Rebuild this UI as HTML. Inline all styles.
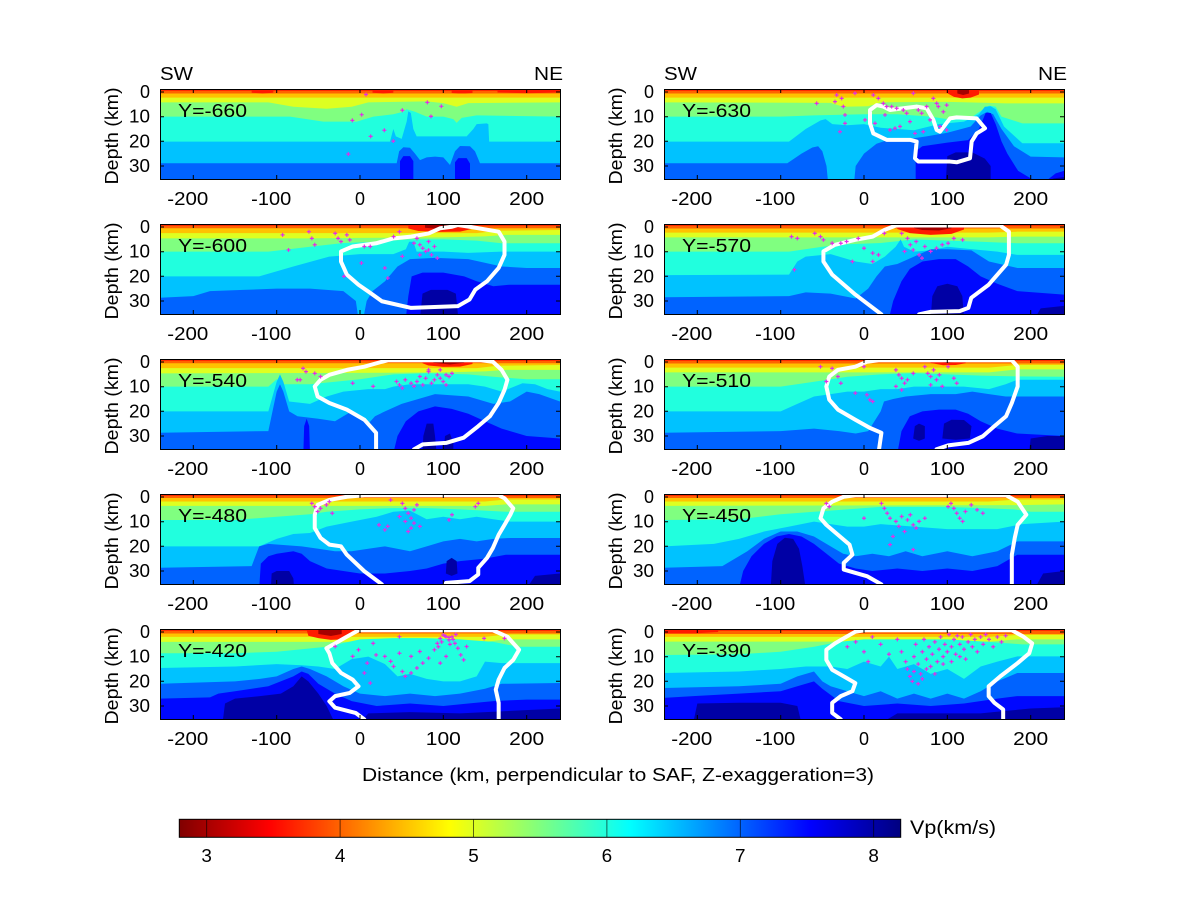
<!DOCTYPE html>
<html><head><meta charset="utf-8"><style>
body{margin:0;background:#fff}
svg{display:block}
.t{font-family:"Liberation Sans",Arial,sans-serif;font-size:18px;fill:#000}
.r3{fill:#a50000}.r35{fill:#ff1a00}.r4{fill:#ff6300}.r45{fill:#ffc200}.r5{fill:#deff21}.r55{fill:#80ff80}
.r6{fill:#21ffde}.r65{fill:#00c2ff}.r7{fill:#0063ff}.r75{fill:#0008ff}.r8{fill:#0000a5}
.wl{fill:none;stroke:#fff;stroke-width:4;vector-effect:non-scaling-stroke;stroke-linejoin:round;stroke-linecap:round}
.pts{fill:none;stroke:none;marker-start:url(#pt);marker-mid:url(#pt);marker-end:url(#pt)}
</style></head><body>
<svg width="1200" height="900" viewBox="0 0 1200 900" xmlns="http://www.w3.org/2000/svg">
<rect width="1200" height="900" fill="#fff"/>
<defs>
<clipPath id="c"><rect x="-240" y="-1.216" width="480" height="36.486"/></clipPath>
<marker id="pt" markerUnits="userSpaceOnUse" orient="0" overflow="visible" markerWidth="1" markerHeight="1" refX="0" refY="0">
<path d="M-2.4,-0.25h4.8v0.5h-4.8z M-0.7,-0.8h1.4v1.6h-1.4z" fill="#e22ee6"/>
</marker>
<linearGradient id="jet" x1="0" y1="0" x2="1" y2="0">
<stop offset="0" stop-color="#800000"/><stop offset="0.125" stop-color="#ff0000"/><stop offset="0.375" stop-color="#ffff00"/><stop offset="0.625" stop-color="#00ffff"/><stop offset="0.875" stop-color="#0000ff"/><stop offset="1" stop-color="#000080"/>
</linearGradient>
<g id="ax"><rect x="0.5" y="0.5" width="400" height="90" fill="none" stroke="#000"/>
<path d="M33.3,0v4M116.7,0v4M200,0v4M283.3,0v4M366.7,0v4M33.3,90v-4M116.7,90v-4M200,90v-4M283.3,90v-4M366.7,90v-4M0,3h4M0,27.7h4M0,52.3h4M0,77h4M400,3h-4M400,27.7h-4M400,52.3h-4M400,77h-4" stroke="#000" fill="none"/></g>
</defs>

<!-- Panel 1 Y=-660 -->
<g transform="translate(360,92) scale(0.833333,2.466667)"><g clip-path="url(#c)">
<rect class="r4" x="-240" y="-2" width="480" height="40"/>
<path class="r35" d="M-240,-2H240V-0.5H-240Z M-130,-2H-104V0.3L-117,0.6L-130,0.3Z M15,-2H40V0.3L28,0.6L15,0.3Z M110,-2H135V0.4L122,0.7L110,0.4Z M165,-2H240V0.2L200,0.5L165,0.2Z"/>
<path class="r45" d="M-240,0.6H240V37H-240Z"/>
<path class="r5" d="M-240,2.3H240V37H-240Z"/>
<path class="r55" d="M-240,4.2L-110,4.2L-80,6L-40,6.8L-10,6L10,4.2L80,3.8L100,4.5L116,6L130,4.5L240,4.2V37H-240Z"/>
<path class="r6" d="M-240,10L-84,10L-44,12L-4,12L16,10L40,9L52,8L56,7L66,8L80,10L100,10L112,11L116,12.5L122,10.5L140,9.5L240,10V37H-240Z"/>
<path class="r65" d="M-240,20.1L36,20.1L40,15L43,18L50,19L56,12L58,7.8L61,8.5L64,15L68,18L128,18L136,15L140,13L152,12.7L154,13L155,20.1L240,20.1V37H-240Z"/>
<path class="r7" d="M-240,28.9L44,28.9L47,24L52,22.4L60,22.6L66,25L72,27.6L80,26.5L90,26.2L100,26.5L108,29.6L114,24L120,21.9L132,22L138,24L144,28.9L240,28.9V37H-240Z"/>
<path class="r75" d="M48,37L48,28L52,26L60,26L64,28L64,37Z M114,37L114,28.5L118,26.8L128,26.8L132,29L132,37Z"/>
<path class="pts" d="M7.2,1L2,9.2L-9.2,11.5L12.8,18L29.2,15.5L40,19.9L50.8,7.4L80.8,4.2L85.2,9.9L97.6,5.8L-14,25.2"/>
</g></g>

<!-- Panel 2 Y=-630 -->
<g transform="translate(864,92) scale(0.833333,2.466667)"><g clip-path="url(#c)">
<rect class="r4" x="-240" y="-2" width="480" height="40"/>
<path class="r35" d="M-240,-2H240V-0.5H-240Z"/>
<path class="r45" d="M-240,0.6H240V37H-240Z"/>
<path class="r5" d="M-240,2.3H240V37H-240Z"/>
<path class="r55" d="M-240,4.2L-40,4.4L-25,6L5,5.8L20,4.2L100,4L150,4.4L170,4.6L240,4.6V37H-240Z"/>
<path class="r6" d="M-240,10L-100,10L-60,9.5L0,9L40,9L80,10L100,11L130,10L143,7L150,5.5L158,6L165,10L190,12.7L240,12.7V37H-240Z"/>
<path class="r65" d="M-240,20.1L-90,20.1L-70,15L-52,11.5L-46,11L-38,13L-20,13.5L0,13L20,14.5L60,15.5L90,13L120,12L138,9L145,6L152,5.8L158,7L168,14L190,20.8L240,20.8V37H-240Z"/>
<path class="r7" d="M-240,28.9L-92,28.9L-75,25L-62,22.5L-55,22L-50,24L-45,30L-43,37L-12,37L-10,30L0,25L15,21L28,19.5L55,19L75,18L100,16.5L128,14L140,9.5L148,8L155,9L165,15L180,22L200,26.2L240,26.5V37H-240Z"/>
<path class="r75" d="M62,37L62,24L70,22L100,20.5L125,19.5L138,15L146,8.5L152,8.5L158,13L165,20L172,25L185,32L205,36L220,37Z M215,37L230,33L240,32V37Z"/>
<path class="r8" d="M98,37L100,26L110,24.5L130,24.5L145,27L152,30L152,37Z M212,37L228,35L240,34.5V37Z"/>
<path class="r35" d="M100,-2H138V1L128,2.3L118,2.6L108,2L100,0.5Z"/>
<path class="r3" d="M112,-2H126V0.6L119,1.2L112,0.6Z"/>
<path class="wl" d="M7.2,7.3L15.2,5.3L23.2,5.9L31.2,7.3L47.2,6.6L63.2,5.9L75.2,6.6L83.2,11.3L87.2,15.4L91.2,16.1L97.2,13.4L103.2,10.7L111.2,10.3L135.2,10.7L145.2,14.7L135.2,16.8L129.2,20.1L127.2,26.9L111.2,28.5L103.2,28.2L65.2,28.2L61.2,26.9L63.2,20.1L55.2,19.4L27.2,19.4L11.2,16.8L7.2,12.7Z"/>
<path class="pts" d="M-56.8,4.6L-34.8,3.9L-32.8,1.2L-26.8,2.6L-24.8,5.9L-22.8,9.3L-22.8,12.7L-28.8,16.1L-10.8,0.5L1.2,11.3L11.2,1.2L13.2,12.7L17.2,2.6L23.2,4.6L27.2,5.9L25.2,9.3L31.2,15.4L37.2,14.7L43.2,14L47.2,7.3L51.2,8.6L55.2,12L59.2,0.5L65.2,7.3L69.2,8.6L75.2,5.9L79.2,11.3L83.2,2.6L87.2,4.6L91.2,14L95.2,8L99.2,5.3L99.2,15.4L71.2,16.1L61.2,16.8L89.2,5.9L33.2,5.9L39.2,6.6"/>
</g></g>

<!-- Panel 3 Y=-600 -->
<g transform="translate(360,227) scale(0.833333,2.466667)"><g clip-path="url(#c)">
<rect class="r4" x="-240" y="-2" width="480" height="40"/>
<path class="r35" d="M-240,-2H240V-0.5H-240Z"/>
<path class="r45" d="M-240,0.5H240V37H-240Z"/>
<path class="r5" d="M-240,2.5L140,2.5L165,1.5L240,1.2V37H-240Z"/>
<path class="r55" d="M-240,4.6L-60,4.6L0,4.4L100,4.2L150,3.8L175,3.2L240,3.2V37H-240Z"/>
<path class="r6" d="M-240,10L-110,10L-60,8L-20,6.5L20,6L60,5L100,5L140,5.5L170,6.6L240,6.6V37H-240Z"/>
<path class="r65" d="M-240,20L-121,20L-80,16L-37,12L0,11L40,11L55,9L59,6L64,6L68,10L100,10L130,10.5L170,10L240,10V37H-240Z"/>
<path class="r7" d="M-240,28.7L-200,28L-180,26L-140,25.5L-100,25L-60,25L-20,26L-5,30L-2,37L4,37L8,30L15,26L30,22L45,16L60,13L90,12.5L130,13L170,16L200,16.6L240,16.6V37H-240Z"/>
<path class="r75" d="M55,37L58,28L62,20L75,18.5L100,18.5L125,20L140,22L160,24L180,23.4L240,23.4V37Z"/>
<path class="r8" d="M72,37L75,27L85,25.5L105,25.5L115,27L118,37Z"/>
<path class="r35" d="M58,-2H134V0.8L120,1.9L95,2L70,1.6L58,0.6Z"/>
<path class="r3" d="M78,-2H118V0.2L100,0.9L78,0.3Z"/>
<path class="wl" d="M117.4,-0.8L131.4,-0.1L166.4,1.9L173.4,5.9L173.4,11.3L166.4,16.6L152.4,22L138.4,25.4L131.4,29.4L117.4,32.1L61.3,32.8L26.3,30.1L12.3,26.7L-1.8,23.4L-15.8,19.3L-22.8,14L-22.8,9.9L-8.8,7.9L19.3,6.6L40.3,4.6L61.3,3.9L82.3,2.6L96.3,0.5L110.4,-0.1Z"/>
<path class="pts" d="M-92.9,3.2L-61.3,1.9L-57.8,4.6L-54.3,7.2L-85.8,9.3L-29.8,2.6L-26.3,4.6L-22.8,5.9L-15.8,3.2L-12.3,5.2L5.2,7.9L12.3,7.9L29.8,16.6L33.3,20.7L-19.3,20L1.7,14.6L40.3,3.9L47.3,1.9L50.8,11.9L68.3,4.6L71.8,7.2L75.3,8.6L78.8,9.9L82.3,5.9L85.8,11.3L89.3,7.9L92.8,12.6L71.8,11.3L64.8,6.6L82.3,9.3"/>
</g></g>

<!-- Panel 4 Y=-570 -->
<g transform="translate(864,227) scale(0.833333,2.466667)"><g clip-path="url(#c)">
<rect class="r4" x="-240" y="-2" width="480" height="40"/>
<path class="r35" d="M-240,-2H240V-0.5H-240Z"/>
<path class="r45" d="M-240,0.6H240V37H-240Z"/>
<path class="r5" d="M-240,2.3L150,2.3L184,1.9L240,1.9V37H-240Z"/>
<path class="r55" d="M-240,4.2L150,4.2L184,3.9L240,3.9V37H-240Z"/>
<path class="r6" d="M-240,10L-90,10L-50,8L-20,7L20,6.5L60,5L100,5.5L140,6L184,6.6L240,6.6V37H-240Z"/>
<path class="r65" d="M-240,19.5L-90,19.3L-80,14L-70,12L-40,11L-10,14L10,15L25,12L38,8L44,5L48,8L60,10L80,9.5L100,8L130,9L160,10L184,11.3L240,11.3V37H-240Z"/>
<path class="r7" d="M-240,28.5L-90,28L-70,26.5L-40,27L-10,29L5,25L15,20L25,16L40,15L60,12L80,9L100,9L129,9.5L150,14L184,16.6L240,16.6V37H-240Z"/>
<path class="r75" d="M30,37L35,30L45,22L55,17L70,14L90,13L110,13L125,16L140,20L160,23L184,26L240,27.4V37Z"/>
<path class="r8" d="M80,37L82,28L88,24L100,23L112,24L118,28L120,37Z M205,37L212,33L240,32V37Z"/>
<path class="r35" d="M40,-2H120V1L105,2.8L80,3.2L55,2.5L40,0.8Z"/>
<path class="r3" d="M60,-2H105V0.5L90,1.4L70,1.2L60,0.4Z"/>
<path class="wl" d="M22,37L20.9,35.4L-10.4,27.4L-38.2,19.3L-48.7,14L-48.7,9.9L-34.8,7.2L-10.4,5.2L10.4,3.9L24.4,1.2L38.3,-0.6L163.5,-0.6L173.9,1.9L173.9,11.3L170.5,15.3L156.5,20.7L149.6,23.4L128.7,28.7L125.2,32.8L114.8,34.1L80,34.4L66.1,35.4L64,37"/>
<path class="pts" d="M-87,3.9L-80,4.6L-59.1,2.6L-52.2,3.9L-48.7,5.2L-38.2,6.6L-27.8,6.6L-20.9,5.9L-6.9,4.6L0,8.6L10.4,10.6L-13.9,14L10.4,14L-83.5,17.3L17.4,11.3L45.2,2.6L52.2,4.6L55.6,7.2L59.1,9.3L66.1,11.3L73,7.9L80,9.9L87,8.6L93.9,7.2L100.9,6.6L107.8,4.6L62.6,5.9L69.6,12.6L118.3,5.2L48.7,9.9L24.4,2.6"/>
</g></g>

<!-- Panel 5 Y=-540 -->
<g transform="translate(360,362) scale(0.833333,2.466667)"><g clip-path="url(#c)">
<rect class="r4" x="-240" y="-2" width="480" height="40"/>
<path class="r35" d="M-240,-2H240V-0.5H-240Z"/>
<path class="r45" d="M-240,0.5H240V37H-240Z"/>
<path class="r5" d="M-240,2.5L140,2.5L165,1.5L240,1.2V37H-240Z"/>
<path class="r55" d="M-240,4.6L0,4.4L100,4.2L150,3.8L175,3.2L240,3.2V37H-240Z"/>
<path class="r6" d="M-240,10L-110,10L-100,7L-92,9L-60,9L-30,8L0,7L40,5L80,4.5L130,5L160,6L200,7L240,7V37H-240Z"/>
<path class="r65" d="M-240,20L-110,20L-100,8L-96,5L-92,8L-85,16L-60,17L-40,14L-20,12L10,11L30,11L40,10L60,9L100,9L130,9L150,10L170,12L185,10L195,8.6L210,9L225,11L240,12V37H-240Z"/>
<path class="r7" d="M-240,28.7L-110,28L-100,12L-96,9L-92,12L-85,20L-75,22L-50,23L-30,24L-20,22L-10,20L0,22L10,25L18,22L30,20L50,17L70,15L90,13L130,14L160,17L180,16L190,14L200,12L215,13L240,16V37H-240Z"/>
<path class="r75" d="M-68,37L-67,26L-64,23L-61,26L-60,37Z M40,37L45,30L55,24L70,20L90,18L110,19L130,21L150,24L170,27L200,30L240,31V37Z"/>
<path class="r8" d="M75,37L76,30L80,25L88,25L90,30L92,37Z M100,37L102,30L108,29L112,33L112,37Z"/>
<path class="r35" d="M75,-2H135V0.8L120,1.9L100,2L82,1.4L75,0.5Z"/>
<path class="r3" d="M88,-2H125V0.3L108,1L88,0.3Z"/>
<path class="wl" d="M19.3,37L19.3,28.7L5.2,23.4L-15.8,19.3L-36.8,16.6L-50.8,14L-54.3,9.9L-47.3,7.2L-36.8,5.2L-15.8,3.2L5.2,1.9L26.3,-0.1L33.3,-0.7L145.4,-0.7L159.4,-0.1L169.9,3.2L176.9,7.2L173.4,11.3L166.4,16.6L155.9,22L141.9,26L124.4,30.7L103.3,32.8L75.3,33.4L64.8,35.4L63,37"/>
<path class="pts" d="M-68.3,2.6L-64.8,3.9L-75.3,7.2L-71.8,7.2L-54.3,4.6L-47.3,5.9L-8.8,8.6L15.8,9.9L43.8,7.9L47.3,9.3L54.3,7.2L61.3,8.6L68.3,7.9L75.3,9.3L78.8,6.6L82.3,3.9L85.8,8.6L89.3,7.2L92.8,5.2L96.3,6.6L99.8,7.9L103.3,5.2L106.8,5.9L110.4,4.6L71.8,5.9L64.8,9.9L50.8,10.6L82.3,3.2L96.3,3.2L103.3,9.3"/>
</g></g>

<!-- Panel 6 Y=-510 -->
<g transform="translate(864,362) scale(0.833333,2.466667)"><g clip-path="url(#c)">
<rect class="r4" x="-240" y="-2" width="480" height="40"/>
<path class="r35" d="M-240,-2H240V-0.5H-240Z"/>
<path class="r45" d="M-240,0.6H240V37H-240Z"/>
<path class="r5" d="M-240,2.3L150,2.3L184,1.2L240,1.2V37H-240Z"/>
<path class="r55" d="M-240,4.2L150,4.2L184,3L240,3V37H-240Z"/>
<path class="r6" d="M-240,10L-100,10L-60,8L-20,6L20,5L60,4.5L100,5L140,5.5L175,5.8L240,6V37H-240Z"/>
<path class="r65" d="M-240,20L-100,20L-80,17L-60,14L-40,13L-20,12L0,12L20,11L40,11L60,10L90,10L120,10L150,11L170,9L184,7.2L240,7.2V37H-240Z"/>
<path class="r7" d="M-240,28.7L-100,28L-60,27L-30,28L-10,29L5,28L20,20L24,16L35,15L50,14L80,13L110,13L130,12L150,13L170,14L240,14V37H-240Z"/>
<path class="r75" d="M40,37L45,28L55,22L70,20L90,19.3L110,19.3L125,21L140,24L160,27L184,29L240,30V37Z"/>
<path class="r8" d="M59,31L61,26L66,25L73,26L73,31L66,32Z M94,31L96,25L105,23.4L120,23.5L129,26L127,31L110,31.5Z M198,37L200,31L220,30L240,30V37Z"/>
<path class="r35" d="M80,-2H122V0.5L110,1.2L95,1.3L80,0.4Z"/>
<path class="r3" d="M90,-2H112V-0.2L100,0.4L90,-0.2Z"/>
<path class="wl" d="M17.4,37L20.9,28.7L7,26.7L-10.4,23.4L-31.3,19.3L-41.7,15.3L-45.2,9.9L-41.7,5.9L-31.3,3.2L-10.4,1.9L3.5,-0.1L17.4,-0.7L177.4,-0.7L184.4,1.9L184.4,9.9L177.4,16.6L170.5,22L156.5,26L142.6,30.1L125.2,32.8L100.9,33.8L87,35.4L85,37"/>
<path class="pts" d="M-52.2,1.9L-38.2,2.6L-45.2,7.9L-27.8,8.6L-31.3,5.9L-10.4,12.6L3.5,13.3L7,15.3L10.4,16L0,1.9L38.3,3.2L41.8,5.2L45.2,6.6L48.7,8.6L52.2,7.2L38.3,9.9L45.2,11.3L73,1.9L76.5,4.6L80,5.9L83.5,3.2L87,7.2L90.4,5.2L80,9.3L93.9,9.9L107.8,6.6L111.3,8.6L100.9,1.9L59.1,4.6"/>
</g></g>

<!-- Panel 7 Y=-480 -->
<g transform="translate(360,497) scale(0.833333,2.466667)"><g clip-path="url(#c)">
<rect class="r4" x="-240" y="-2" width="480" height="40"/>
<path class="r35" d="M-240,-2H240V-0.5H-240Z"/>
<path class="r45" d="M-240,0.4H240V37H-240Z"/>
<path class="r5" d="M-240,1.8L150,1.8L175,1L240,1V37H-240Z"/>
<path class="r55" d="M-240,3.6L150,3.6L175,3L240,3V37H-240Z"/>
<path class="r6" d="M-240,9.3L-150,9.3L-100,8L-60,7L-40,6L0,5L40,4.5L80,4.5L120,5L150,5.5L175,6L240,6V37H-240Z"/>
<path class="r65" d="M-240,20L-121,20L-100,17L-80,15L-60,14.6L-40,12L-10,10L20,8L40,6L60,5.5L80,9L100,8L120,9L140,8L160,9L180,10L240,10V37H-240Z"/>
<path class="r7" d="M-240,28.7L-130,28L-121,20L-110,19L-90,19.5L-70,20L-50,21L-30,22L-10,22L10,21L30,20L60,22L80,20L100,18L120,17L140,18L160,17L180,16.6L240,16.6V37H-240Z"/>
<path class="r75" d="M-121,37L-119,27L-110,24L-100,23L-80,22L-70,23L-60,26L-40,29L-20,30L0,31L30,31L60,30L80,29L100,27L120,26L150,25L175,23.4L240,23.4V37Z"/>
<path class="r8" d="M-107,37L-106,31L-100,30L-85,30L-80,33L-79,37Z M103,31L104,26L110,24.7L116,26L117,31L110,32Z M200,37L210,32L240,31V37Z"/>
<path class="wl" d="M26.3,37L26.3,35.4L5.2,30.1L-15.8,23.4L-22.8,20L-36.8,19.3L-47.3,16.6L-54.3,12.6L-54.3,7.2L-50.8,3.2L-36.8,1.2L-15.8,-0.1L5.2,-0.7L166.4,-0.7L173.4,0.5L183.9,4.6L180.4,7.2L173.4,11.3L166.4,15.3L159.4,20.7L152.4,24.7L141.9,28.7L141.9,31.4L131.4,34.1L103.3,34.8L99.8,37"/>
<path class="pts" d="M-57.8,2.6L-54.3,3.9L-50.8,5.9L-47.3,4.6L-40.3,3.2L-36.8,1.9L-33.3,6.6L36.8,1.2L50.8,2.6L54.3,4.6L57.8,6.6L61.3,8.6L64.8,10.6L61.3,12.6L54.3,9.9L47.3,7.9L64.8,5.2L68.3,3.2L33.3,11.9L29.8,13.3L22.8,11.3L110.4,7.2L106.8,9.3L138.4,3.9L141.9,2.6L57.8,14L71.8,11.9"/>
</g></g>

<!-- Panel 8 Y=-450 -->
<g transform="translate(864,497) scale(0.833333,2.466667)"><g clip-path="url(#c)">
<rect class="r4" x="-240" y="-2" width="480" height="40"/>
<path class="r35" d="M-240,-2H240V-0.5H-240Z"/>
<path class="r45" d="M-240,0.4H240V37H-240Z"/>
<path class="r5" d="M-240,1.8L150,1.8L184,1L240,1V37H-240Z"/>
<path class="r55" d="M-240,3.6L184,3.3L240,3V37H-240Z"/>
<path class="r6" d="M-240,9.3L-150,9L-100,7L-60,6L-20,5L20,4L100,4L140,4.5L180,5L200,6L240,6V37H-240Z"/>
<path class="r65" d="M-240,20L-180,19L-150,17L-120,14L-90,12L-60,10L-40,11L-20,12L0,12L20,11L60,12L100,13L160,13L190,11L240,10V37H-240Z"/>
<path class="r7" d="M-240,28.7L-170,28L-140,22L-120,17L-100,14L-80,14L-60,16L-40,20L-25,23L-10,24L10,23L30,24L50,22L70,24L100,22L130,24L160,22L184,18L240,18V37H-240Z"/>
<path class="r75" d="M-150,37L-145,30L-135,24L-120,19L-105,16L-90,15L-75,16L-60,19L-45,23L-30,27L-10,29L10,30L40,29L70,30L100,29L130,30L160,28L184,23.4L240,23.4V37Z"/>
<path class="r8" d="M-112,37L-110,26L-104,19L-95,16.5L-85,17L-78,21L-74,28L-70,37Z M205,37L215,31L240,30V37Z"/>
<path class="wl" d="M20.9,37L20.9,35.4L3.5,32.1L-24.3,29.4L-24.3,26.7L-13.9,23.4L-17.4,19.3L-31.3,15.3L-45.2,11.3L-52.2,8.6L-48.7,4.6L-38.2,1.9L-24.3,-0.1L-10.4,-0.7L170.5,-0.7L184.4,1.9L194.8,7.2L184.4,11.3L180.9,16.6L177.4,23.4L177.4,37"/>
<path class="pts" d="M-45.2,2.6L-41.7,3.9L0,8.6L20.9,2.6L24.4,4.6L27.8,6.6L31.3,8.6L38.3,9.9L45.2,7.9L52.2,9.3L55.6,7.2L59.1,11.3L62.6,12.6L66.1,9.9L48.7,14L41.8,11.9L73,8.6L34.8,16L31.3,19.3L59.1,21.3L104.4,2.6L107.8,4.6L111.3,6.6L114.8,8.6L118.3,9.9L121.7,5.9L128.7,3.2L135.7,5.2L142.6,6.6L100.9,3.9"/>
</g></g>

<!-- Panel 9 Y=-420 -->
<g transform="translate(360,632) scale(0.833333,2.466667)"><g clip-path="url(#c)">
<rect class="r4" x="-240" y="-2" width="480" height="40"/>
<path class="r35" d="M-240,-2H240V-0.5H-240Z"/>
<path class="r45" d="M-240,0.6H240V37H-240Z"/>
<path class="r5" d="M-240,2L150,2L175,1L240,1V37H-240Z"/>
<path class="r55" d="M-240,4L150,4L175,3L240,3V37H-240Z"/>
<path class="r6" d="M-240,8.6L-150,8.6L-100,8L-70,7L-40,6L0,3L40,2.5L80,2.5L120,3L160,4L190,6L240,6V37H-240Z"/>
<path class="r65" d="M-240,14.6L-150,14L-100,13L-70,13.5L-50,14L-30,15L-10,11L10,10L30,13L45,18L60,17L80,19L100,20L120,20L140,18L150,12L170,12.6L240,12.6V37H-240Z"/>
<path class="r7" d="M-240,21L-150,20L-120,19L-100,18L-80,15L-70,14L-60,15L-40,18L-20,22L0,25L30,26L60,25L90,26L120,25L150,23L170,21L240,20.7V37H-240Z"/>
<path class="r75" d="M-240,27L-180,26.5L-170,25L-150,24L-110,22L-80,18L-70,16L-62,17L-50,21L-30,25L-10,28L20,30L60,29L100,30L130,29L160,28L200,27.4L240,27.4V37H-240Z"/>
<path class="r8" d="M-165,37L-162,29L-150,27L-120,26L-95,25L-80,22L-70,18L-62,20L-50,25L-40,30L-30,37Z M0,37L10,33L60,32.5L120,33L180,32L240,31V37Z"/>
<path class="r35" d="M-65,-2H-10V1.5L-20,3L-35,3.2L-50,2.5L-62,1.5Z"/>
<path class="r3" d="M-50,-2H-22V0.8L-35,1.6L-50,0.8Z"/>
<path class="wl" d="M5.2,37L5.2,35.4L-5.3,32.8L-29.8,30.7L-36.8,28.1L-29.8,26L-12.3,24.7L-1.8,22L-8.8,19.3L-22.8,16.6L-33.3,12.6L-36.8,8.6L-40.3,6.6L-29.8,4.6L-15.8,1.9L-1.8,-0.7L159.4,-0.7L176.9,1.9L190.9,7.2L183.9,11.3L173.4,14.6L166.4,19.3L162.9,23.4L166.4,28.7L166.4,37"/>
<path class="pts" d="M-29.8,5.9L-8.8,9.9L-1.8,7.2L8.7,12.6L15.8,4.6L19.3,9.3L29.8,9.9L36.8,11.9L40.3,14L47.3,8.6L50.8,16L54.3,18L61.3,16.6L68.3,14.6L75.3,12.6L82.3,10.6L89.3,7.2L92.8,4.6L96.3,2.6L99.8,1.2L103.3,1.9L106.8,3.2L110.4,1.9L113.9,4.6L117.4,6.6L120.9,9.3L124.4,11.3L127.9,5.9L103.3,9.9L96.3,12.6L148.9,2.6L173.4,2.6L5.2,16.6L12.3,20.7L47.3,1.9L61.3,9.9L71.8,7.9L106.8,2.2L111.7,3L101.9,1.6L98,4L108,5L115,1L94,6"/>
</g></g>

<!-- Panel 10 Y=-390 -->
<g transform="translate(864,632) scale(0.833333,2.466667)"><g clip-path="url(#c)">
<rect class="r4" x="-240" y="-2" width="480" height="40"/>
<path class="r35" d="M-240,-2H240V-0.5H-240Z M-240,-2H-175V0L-200,0.5L-240,0.5Z"/>
<path class="r45" d="M-240,0.8H240V37H-240Z"/>
<path class="r5" d="M-240,2L150,2L184,1.2L240,1.2V37H-240Z"/>
<path class="r55" d="M-240,3.9L150,3.9L184,3L240,3V37H-240Z"/>
<path class="r6" d="M-240,9.3L-150,9L-100,8L-60,6L-30,4L0,3L50,3L100,3L150,4L190,5L240,5V37H-240Z"/>
<path class="r65" d="M-240,16.6L-150,16L-100,15L-70,14L-40,14L-20,15L0,12L20,14L30,10L40,15L60,13L80,17L100,15L120,19L140,14L160,12L184,9.9L240,9.9V37H-240Z"/>
<path class="r7" d="M-240,22.7L-150,22L-100,21L-80,18L-60,16L-50,20L-40,22L-20,24L0,26L20,24L40,27L60,25L80,27L100,25L120,27L140,24L160,20L184,16.6L240,16.6V37H-240Z"/>
<path class="r75" d="M-240,26.7L-205,26L-150,25L-100,24L-80,22L-60,20L-50,23L-30,28L0,30L40,29L80,30L120,29L160,27L184,26L240,26V37H-240Z"/>
<path class="r8" d="M-205,37L-200,29L-150,28.7L-100,28.7L-80,30L-75,37Z M20,37L40,33L100,33L140,33L170,32L200,31L240,30.5V37Z"/>
<path class="wl" d="M-27.8,37L-27.8,35.4L-38.2,32.8L-38.2,28.7L-27.8,26L-13.9,24L-10.4,20.7L-24.3,18L-38.2,15.3L-45.2,11.3L-45.2,7.2L-34.8,4.6L-20.9,1.9L-10.4,-0.1L0,-0.7L177.4,-0.7L191.3,1.9L201.8,4.6L198.3,8.6L184.4,12.6L163.5,18L149.6,22L149.6,26L156.5,28.7L167,31.4L167,37"/>
<path class="pts" d="M40,3L45,8L50,12L52,15L55,18L58,20L60,10L62,5L65,13L68,17L70,8L72,3L75,11L78,6L80,14L82,9L85,4L88,12L90,7L92,2L95,10L97,5L100,8L102,1L105,6L108,3L110,9L112,1.5L115,5L118,2L120,7L122,11L125,4L128,1L130,6L133,3L136,8L140,2L143,5L146,1L150,3L155,6L160,2L165,4L170,1.5L60,16L70,19L75,15L65,21L85,17L95,13L105,12L115,10L-20,6L-10,4L0,8L5,12L20,5L30,9L10,2"/>
</g></g>

<!-- Axes boxes and ticks -->
<use href="#ax" transform="translate(160,89)"/>
<use href="#ax" transform="translate(664,89)"/>
<use href="#ax" transform="translate(160,224)"/>
<use href="#ax" transform="translate(664,224)"/>
<use href="#ax" transform="translate(160,359)"/>
<use href="#ax" transform="translate(664,359)"/>
<use href="#ax" transform="translate(160,494)"/>
<use href="#ax" transform="translate(664,494)"/>
<use href="#ax" transform="translate(160,629)"/>
<use href="#ax" transform="translate(664,629)"/>

<!-- SW / NE -->
<text class="t" x="160" y="80" textLength="33" lengthAdjust="spacingAndGlyphs">SW</text>
<text class="t" x="563" y="80" text-anchor="end" textLength="29" lengthAdjust="spacingAndGlyphs">NE</text>
<text class="t" x="664" y="80" textLength="33" lengthAdjust="spacingAndGlyphs">SW</text>
<text class="t" x="1067" y="80" text-anchor="end" textLength="29" lengthAdjust="spacingAndGlyphs">NE</text>

<!-- Y= labels -->
<text class="t" x="178" y="117" textLength="69" lengthAdjust="spacingAndGlyphs">Y=-660</text>
<text class="t" x="682" y="117" textLength="69" lengthAdjust="spacingAndGlyphs">Y=-630</text>
<text class="t" x="178" y="252" textLength="69" lengthAdjust="spacingAndGlyphs">Y=-600</text>
<text class="t" x="682" y="252" textLength="69" lengthAdjust="spacingAndGlyphs">Y=-570</text>
<text class="t" x="178" y="387" textLength="69" lengthAdjust="spacingAndGlyphs">Y=-540</text>
<text class="t" x="682" y="387" textLength="69" lengthAdjust="spacingAndGlyphs">Y=-510</text>
<text class="t" x="178" y="522" textLength="69" lengthAdjust="spacingAndGlyphs">Y=-480</text>
<text class="t" x="682" y="522" textLength="69" lengthAdjust="spacingAndGlyphs">Y=-450</text>
<text class="t" x="178" y="657" textLength="69" lengthAdjust="spacingAndGlyphs">Y=-420</text>
<text class="t" x="682" y="657" textLength="69" lengthAdjust="spacingAndGlyphs">Y=-390</text>

<!-- Depth labels -->
<text class="t" text-anchor="middle" textLength="97" lengthAdjust="spacingAndGlyphs" transform="translate(118,136) rotate(-90)">Depth (km)</text>
<text class="t" text-anchor="middle" textLength="97" lengthAdjust="spacingAndGlyphs" transform="translate(622,136) rotate(-90)">Depth (km)</text>
<text class="t" text-anchor="middle" textLength="97" lengthAdjust="spacingAndGlyphs" transform="translate(118,271) rotate(-90)">Depth (km)</text>
<text class="t" text-anchor="middle" textLength="97" lengthAdjust="spacingAndGlyphs" transform="translate(622,271) rotate(-90)">Depth (km)</text>
<text class="t" text-anchor="middle" textLength="97" lengthAdjust="spacingAndGlyphs" transform="translate(118,406) rotate(-90)">Depth (km)</text>
<text class="t" text-anchor="middle" textLength="97" lengthAdjust="spacingAndGlyphs" transform="translate(622,406) rotate(-90)">Depth (km)</text>
<text class="t" text-anchor="middle" textLength="97" lengthAdjust="spacingAndGlyphs" transform="translate(118,541) rotate(-90)">Depth (km)</text>
<text class="t" text-anchor="middle" textLength="97" lengthAdjust="spacingAndGlyphs" transform="translate(622,541) rotate(-90)">Depth (km)</text>
<text class="t" text-anchor="middle" textLength="97" lengthAdjust="spacingAndGlyphs" transform="translate(118,676) rotate(-90)">Depth (km)</text>
<text class="t" text-anchor="middle" textLength="97" lengthAdjust="spacingAndGlyphs" transform="translate(622,676) rotate(-90)">Depth (km)</text>

<!-- Y tick labels -->
<g class="t" text-anchor="end">
<text x="150" y="98" textLength="10" lengthAdjust="spacingAndGlyphs">0</text>
<text x="150" y="122.7" textLength="21" lengthAdjust="spacingAndGlyphs">10</text>
<text x="150" y="147.3" textLength="21" lengthAdjust="spacingAndGlyphs">20</text>
<text x="150" y="172" textLength="21" lengthAdjust="spacingAndGlyphs">30</text>
<text x="654" y="98" textLength="10" lengthAdjust="spacingAndGlyphs">0</text>
<text x="654" y="122.7" textLength="21" lengthAdjust="spacingAndGlyphs">10</text>
<text x="654" y="147.3" textLength="21" lengthAdjust="spacingAndGlyphs">20</text>
<text x="654" y="172" textLength="21" lengthAdjust="spacingAndGlyphs">30</text>

<text x="150" y="233" textLength="10" lengthAdjust="spacingAndGlyphs">0</text>
<text x="150" y="257.7" textLength="21" lengthAdjust="spacingAndGlyphs">10</text>
<text x="150" y="282.3" textLength="21" lengthAdjust="spacingAndGlyphs">20</text>
<text x="150" y="307" textLength="21" lengthAdjust="spacingAndGlyphs">30</text>
<text x="654" y="233" textLength="10" lengthAdjust="spacingAndGlyphs">0</text>
<text x="654" y="257.7" textLength="21" lengthAdjust="spacingAndGlyphs">10</text>
<text x="654" y="282.3" textLength="21" lengthAdjust="spacingAndGlyphs">20</text>
<text x="654" y="307" textLength="21" lengthAdjust="spacingAndGlyphs">30</text>

<text x="150" y="368" textLength="10" lengthAdjust="spacingAndGlyphs">0</text>
<text x="150" y="392.7" textLength="21" lengthAdjust="spacingAndGlyphs">10</text>
<text x="150" y="417.3" textLength="21" lengthAdjust="spacingAndGlyphs">20</text>
<text x="150" y="442" textLength="21" lengthAdjust="spacingAndGlyphs">30</text>
<text x="654" y="368" textLength="10" lengthAdjust="spacingAndGlyphs">0</text>
<text x="654" y="392.7" textLength="21" lengthAdjust="spacingAndGlyphs">10</text>
<text x="654" y="417.3" textLength="21" lengthAdjust="spacingAndGlyphs">20</text>
<text x="654" y="442" textLength="21" lengthAdjust="spacingAndGlyphs">30</text>

<text x="150" y="503" textLength="10" lengthAdjust="spacingAndGlyphs">0</text>
<text x="150" y="527.7" textLength="21" lengthAdjust="spacingAndGlyphs">10</text>
<text x="150" y="552.3" textLength="21" lengthAdjust="spacingAndGlyphs">20</text>
<text x="150" y="577" textLength="21" lengthAdjust="spacingAndGlyphs">30</text>
<text x="654" y="503" textLength="10" lengthAdjust="spacingAndGlyphs">0</text>
<text x="654" y="527.7" textLength="21" lengthAdjust="spacingAndGlyphs">10</text>
<text x="654" y="552.3" textLength="21" lengthAdjust="spacingAndGlyphs">20</text>
<text x="654" y="577" textLength="21" lengthAdjust="spacingAndGlyphs">30</text>

<text x="150" y="638" textLength="10" lengthAdjust="spacingAndGlyphs">0</text>
<text x="150" y="662.7" textLength="21" lengthAdjust="spacingAndGlyphs">10</text>
<text x="150" y="687.3" textLength="21" lengthAdjust="spacingAndGlyphs">20</text>
<text x="150" y="712" textLength="21" lengthAdjust="spacingAndGlyphs">30</text>
<text x="654" y="638" textLength="10" lengthAdjust="spacingAndGlyphs">0</text>
<text x="654" y="662.7" textLength="21" lengthAdjust="spacingAndGlyphs">10</text>
<text x="654" y="687.3" textLength="21" lengthAdjust="spacingAndGlyphs">20</text>
<text x="654" y="712" textLength="21" lengthAdjust="spacingAndGlyphs">30</text>
</g>

<!-- X tick labels -->
<g class="t" text-anchor="middle">
<text x="187.8" y="205" textLength="41" lengthAdjust="spacingAndGlyphs">-200</text>
<text x="271.2" y="205" textLength="40" lengthAdjust="spacingAndGlyphs">-100</text>
<text x="360" y="205" textLength="10" lengthAdjust="spacingAndGlyphs">0</text>
<text x="443.3" y="205" textLength="35" lengthAdjust="spacingAndGlyphs">100</text>
<text x="526.7" y="205" textLength="35" lengthAdjust="spacingAndGlyphs">200</text>
<text x="691.8" y="205" textLength="41" lengthAdjust="spacingAndGlyphs">-200</text>
<text x="775.2" y="205" textLength="40" lengthAdjust="spacingAndGlyphs">-100</text>
<text x="864" y="205" textLength="10" lengthAdjust="spacingAndGlyphs">0</text>
<text x="947.3" y="205" textLength="35" lengthAdjust="spacingAndGlyphs">100</text>
<text x="1030.7" y="205" textLength="35" lengthAdjust="spacingAndGlyphs">200</text>

<text x="187.8" y="340" textLength="41" lengthAdjust="spacingAndGlyphs">-200</text>
<text x="271.2" y="340" textLength="40" lengthAdjust="spacingAndGlyphs">-100</text>
<text x="360" y="340" textLength="10" lengthAdjust="spacingAndGlyphs">0</text>
<text x="443.3" y="340" textLength="35" lengthAdjust="spacingAndGlyphs">100</text>
<text x="526.7" y="340" textLength="35" lengthAdjust="spacingAndGlyphs">200</text>
<text x="691.8" y="340" textLength="41" lengthAdjust="spacingAndGlyphs">-200</text>
<text x="775.2" y="340" textLength="40" lengthAdjust="spacingAndGlyphs">-100</text>
<text x="864" y="340" textLength="10" lengthAdjust="spacingAndGlyphs">0</text>
<text x="947.3" y="340" textLength="35" lengthAdjust="spacingAndGlyphs">100</text>
<text x="1030.7" y="340" textLength="35" lengthAdjust="spacingAndGlyphs">200</text>

<text x="187.8" y="475" textLength="41" lengthAdjust="spacingAndGlyphs">-200</text>
<text x="271.2" y="475" textLength="40" lengthAdjust="spacingAndGlyphs">-100</text>
<text x="360" y="475" textLength="10" lengthAdjust="spacingAndGlyphs">0</text>
<text x="443.3" y="475" textLength="35" lengthAdjust="spacingAndGlyphs">100</text>
<text x="526.7" y="475" textLength="35" lengthAdjust="spacingAndGlyphs">200</text>
<text x="691.8" y="475" textLength="41" lengthAdjust="spacingAndGlyphs">-200</text>
<text x="775.2" y="475" textLength="40" lengthAdjust="spacingAndGlyphs">-100</text>
<text x="864" y="475" textLength="10" lengthAdjust="spacingAndGlyphs">0</text>
<text x="947.3" y="475" textLength="35" lengthAdjust="spacingAndGlyphs">100</text>
<text x="1030.7" y="475" textLength="35" lengthAdjust="spacingAndGlyphs">200</text>

<text x="187.8" y="610" textLength="41" lengthAdjust="spacingAndGlyphs">-200</text>
<text x="271.2" y="610" textLength="40" lengthAdjust="spacingAndGlyphs">-100</text>
<text x="360" y="610" textLength="10" lengthAdjust="spacingAndGlyphs">0</text>
<text x="443.3" y="610" textLength="35" lengthAdjust="spacingAndGlyphs">100</text>
<text x="526.7" y="610" textLength="35" lengthAdjust="spacingAndGlyphs">200</text>
<text x="691.8" y="610" textLength="41" lengthAdjust="spacingAndGlyphs">-200</text>
<text x="775.2" y="610" textLength="40" lengthAdjust="spacingAndGlyphs">-100</text>
<text x="864" y="610" textLength="10" lengthAdjust="spacingAndGlyphs">0</text>
<text x="947.3" y="610" textLength="35" lengthAdjust="spacingAndGlyphs">100</text>
<text x="1030.7" y="610" textLength="35" lengthAdjust="spacingAndGlyphs">200</text>

<text x="187.8" y="745" textLength="41" lengthAdjust="spacingAndGlyphs">-200</text>
<text x="271.2" y="745" textLength="40" lengthAdjust="spacingAndGlyphs">-100</text>
<text x="360" y="745" textLength="10" lengthAdjust="spacingAndGlyphs">0</text>
<text x="443.3" y="745" textLength="35" lengthAdjust="spacingAndGlyphs">100</text>
<text x="526.7" y="745" textLength="35" lengthAdjust="spacingAndGlyphs">200</text>
<text x="691.8" y="745" textLength="41" lengthAdjust="spacingAndGlyphs">-200</text>
<text x="775.2" y="745" textLength="40" lengthAdjust="spacingAndGlyphs">-100</text>
<text x="864" y="745" textLength="10" lengthAdjust="spacingAndGlyphs">0</text>
<text x="947.3" y="745" textLength="35" lengthAdjust="spacingAndGlyphs">100</text>
<text x="1030.7" y="745" textLength="35" lengthAdjust="spacingAndGlyphs">200</text>
</g>

<!-- X axis title -->
<text class="t" x="362" y="781" textLength="512" lengthAdjust="spacingAndGlyphs">Distance (km, perpendicular to SAF, Z-exaggeration=3)</text>

<!-- Colorbar -->
<rect x="179.3" y="819.3" width="721.4" height="18" fill="url(#jet)" stroke="#000" stroke-width="1"/>
<path d="M206.7,819.3V837.3M340.1,819.3V837.3M473.5,819.3V837.3M606.9,819.3V837.3M740.3,819.3V837.3M873.7,819.3V837.3" stroke="#000" stroke-width="0.8" stroke-opacity="0.75" fill="none"/>
<g class="t" text-anchor="middle">
<text x="206.7" y="862" textLength="10.5" lengthAdjust="spacingAndGlyphs">3</text>
<text x="340.1" y="862" textLength="10.5" lengthAdjust="spacingAndGlyphs">4</text>
<text x="473.5" y="862" textLength="10.5" lengthAdjust="spacingAndGlyphs">5</text>
<text x="606.9" y="862" textLength="10.5" lengthAdjust="spacingAndGlyphs">6</text>
<text x="740.3" y="862" textLength="10.5" lengthAdjust="spacingAndGlyphs">7</text>
<text x="873.7" y="862" textLength="10.5" lengthAdjust="spacingAndGlyphs">8</text>
</g>
<text class="t" x="910" y="834" style="font-size:19px" textLength="86" lengthAdjust="spacingAndGlyphs">Vp(km/s)</text>
</svg>
</body></html>
